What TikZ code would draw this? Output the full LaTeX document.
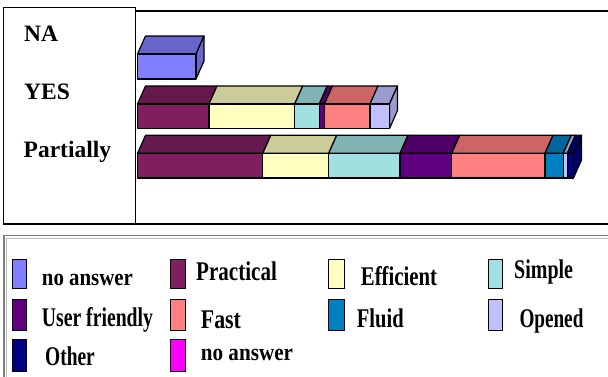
\documentclass[tikz,border=0pt]{standalone}
\usepackage{fontspec}
\setmainfont{Liberation Serif}
\usepackage{graphicx}
\definecolor{naC}{HTML}{8080FF}
\definecolor{pracC}{HTML}{7F1F5F}
\definecolor{effC}{HTML}{FFFFC0}
\definecolor{simC}{HTML}{A0E0E0}
\definecolor{ufC}{HTML}{600080}
\definecolor{fastC}{HTML}{FF8080}
\definecolor{fluC}{HTML}{0080C0}
\definecolor{opeC}{HTML}{C0C0FF}
\definecolor{othC}{HTML}{000080}
\definecolor{na2C}{HTML}{FF00FF}

\begin{document}
\begin{tikzpicture}[x=1pt,y=-1pt,
  front/.style={draw=black,line width=1.2pt,line join=round},
  swatch/.style={draw=black,line width=0.8pt},
  catlbl/.style={font=\fontsize{23.5}{23.5}\selectfont\bfseries,anchor=base west,inner sep=0pt},
  leglbl/.style={font=\fontsize{27}{27}\selectfont\bfseries,anchor=base west,inner sep=0pt},
  legsmall/.style={font=\fontsize{24}{24}\selectfont\bfseries,anchor=base west,inner sep=0pt}]
\useasboundingbox (0,0) rectangle (608,376);
% frames
\draw[line width=1.5pt] (3.5,7.5) rectangle (135.5,224);
\draw[line width=1.5pt] (135.5,11) -- (610,11);
\draw[line width=1.5pt] (135.5,224) -- (610,224);
\draw[gray,line width=1.5pt] (4,380) -- (4,235.5) -- (610,235.5);
\draw[lightgray,line width=1pt] (6.5,380) -- (6.5,238) -- (610,238);
% category labels
\node[catlbl] (na) at (24,41.5) {NA};
\node[catlbl] (yes) at (24,99.5) {YES};
\node[catlbl] (partially) at (23.5,157) {Partially};
% NA bar
\draw[front,fill=naC!80!black] (137.5,54) -- (145.5,36) -- (204,36) -- (196,54) -- cycle;
\draw[front,fill=naC!80!black] (196,54) -- (204,36) -- (204,61) -- (196,79) -- cycle;
\draw[front,fill=naC] (137.5,54) rectangle (196,79);
% YES bar
\draw[front,fill=pracC!80!black] (137.5,104) -- (145.5,86) -- (217,86) -- (209,104) -- cycle;
\draw[front,fill=effC!80!black] (209,104) -- (217,86) -- (302.7,86) -- (294.7,104) -- cycle;
\draw[front,fill=simC!80!black] (294.7,104) -- (302.7,86) -- (327.3,86) -- (319.3,104) -- cycle;
\draw[front,fill=ufC!80!black] (319.3,104) -- (327.3,86) -- (332.5,86) -- (324.5,104) -- cycle;
\draw[front,fill=fastC!80!black] (324.5,104) -- (332.5,86) -- (378,86) -- (370,104) -- cycle;
\draw[front,fill=opeC!80!black] (370,104) -- (378,86) -- (397.5,86) -- (389.5,104) -- cycle;
\draw[front,fill=opeC!80!black] (389.5,104) -- (397.5,86) -- (397.5,110.5) -- (389.5,128.5) -- cycle;
\draw[front,fill=pracC] (137.5,104) rectangle (209,128.5);
\draw[front,fill=effC] (209,104) rectangle (294.7,128.5);
\draw[front,fill=simC] (294.7,104) rectangle (319.3,128.5);
\draw[front,fill=ufC] (319.3,104) rectangle (324.5,128.5);
\draw[front,fill=fastC] (324.5,104) rectangle (370,128.5);
\draw[front,fill=opeC] (370,104) rectangle (389.5,128.5);
% Partially bar
\draw[front,fill=pracC!80!black] (137.5,153.3) -- (145.5,135.3) -- (270.8,135.3) -- (262.8,153.3) -- cycle;
\draw[front,fill=effC!80!black] (262.8,153.3) -- (270.8,135.3) -- (336.7,135.3) -- (328.7,153.3) -- cycle;
\draw[front,fill=simC!80!black] (328.7,153.3) -- (336.7,135.3) -- (408,135.3) -- (400,153.3) -- cycle;
\draw[front,fill=ufC!80!black] (400,153.3) -- (408,135.3) -- (459.7,135.3) -- (451.7,153.3) -- cycle;
\draw[front,fill=fastC!80!black] (451.7,153.3) -- (459.7,135.3) -- (553,135.3) -- (545,153.3) -- cycle;
\draw[front,fill=fluC!80!black] (545,153.3) -- (553,135.3) -- (571.3,135.3) -- (563.3,153.3) -- cycle;
\draw[front,fill=opeC!80!black] (563.3,153.3) -- (571.3,135.3) -- (575.3,135.3) -- (567.3,153.3) -- cycle;
\draw[front,fill=othC!80!black] (567.3,153.3) -- (575.3,135.3) -- (581.5,135.3) -- (573.5,153.3) -- cycle;
\draw[front,fill=othC!80!black] (573.5,153.3) -- (581.5,135.3) -- (581.5,160) -- (573.5,178) -- cycle;
\draw[front,fill=pracC] (137.5,153.3) rectangle (262.8,178);
\draw[front,fill=effC] (262.8,153.3) rectangle (328.7,178);
\draw[front,fill=simC] (328.7,153.3) rectangle (400,178);
\draw[front,fill=ufC] (400,153.3) rectangle (451.7,178);
\draw[front,fill=fastC] (451.7,153.3) rectangle (545,178);
\draw[front,fill=fluC] (545,153.3) rectangle (563.3,178);
\draw[front,fill=opeC] (563.3,153.3) rectangle (567.3,178);
\draw[front,fill=othC] (567.3,153.3) rectangle (573.5,178);
% legend
\draw[swatch,fill=naC] (12.3,259.5) rectangle (26,288.5);
\node[legsmall] (lgNoAnswer) at (41.7,285) {\scalebox{0.87}[1]{no answer}};
\draw[swatch,fill=pracC] (170.5,259.5) rectangle (185,288.5);
\node[leglbl] (lgPractical) at (196,280) {\scalebox{0.78}[1]{Practical}};
\draw[swatch,fill=effC] (328.3,259.5) rectangle (344,288.5);
\node[leglbl] (lgEfficient) at (360.7,285) {\scalebox{0.77}[1]{Efficient}};
\draw[swatch,fill=simC] (488.3,259.5) rectangle (502.7,288.5);
\node[leglbl] (lgSimple) at (514,278.3) {\scalebox{0.74}[1]{Simple}};
\draw[swatch,fill=ufC] (12.3,299) rectangle (26,330);
\node[leglbl] (lgUserFriendly) at (41.7,326) {\scalebox{0.73}[1]{User friendly}};
\draw[swatch,fill=fastC] (170.5,299) rectangle (185,330);
\node[leglbl] (lgFast) at (200.7,328.3) {\scalebox{0.81}[1]{Fast}};
\draw[swatch,fill=fluC] (328.3,299) rectangle (344,330);
\node[leglbl] (lgFluid) at (356.7,327.3) {\scalebox{0.76}[1]{Fluid}};
\draw[swatch,fill=opeC] (488.3,299) rectangle (502.7,330);
\node[leglbl] (lgOpened) at (519.3,327.3) {\scalebox{0.71}[1]{Opened}};
\draw[swatch,fill=othC] (12.3,339.5) rectangle (26,371.7);
\node[leglbl] (lgOther) at (45,365) {\scalebox{0.72}[1]{Other}};
\draw[swatch,fill=na2C] (170.5,339.5) rectangle (185,371.7);
\node[legsmall] (lgNoAnswerB) at (200.7,360.7) {\scalebox{0.88}[1]{no answer}};
\end{tikzpicture}
\end{document}
